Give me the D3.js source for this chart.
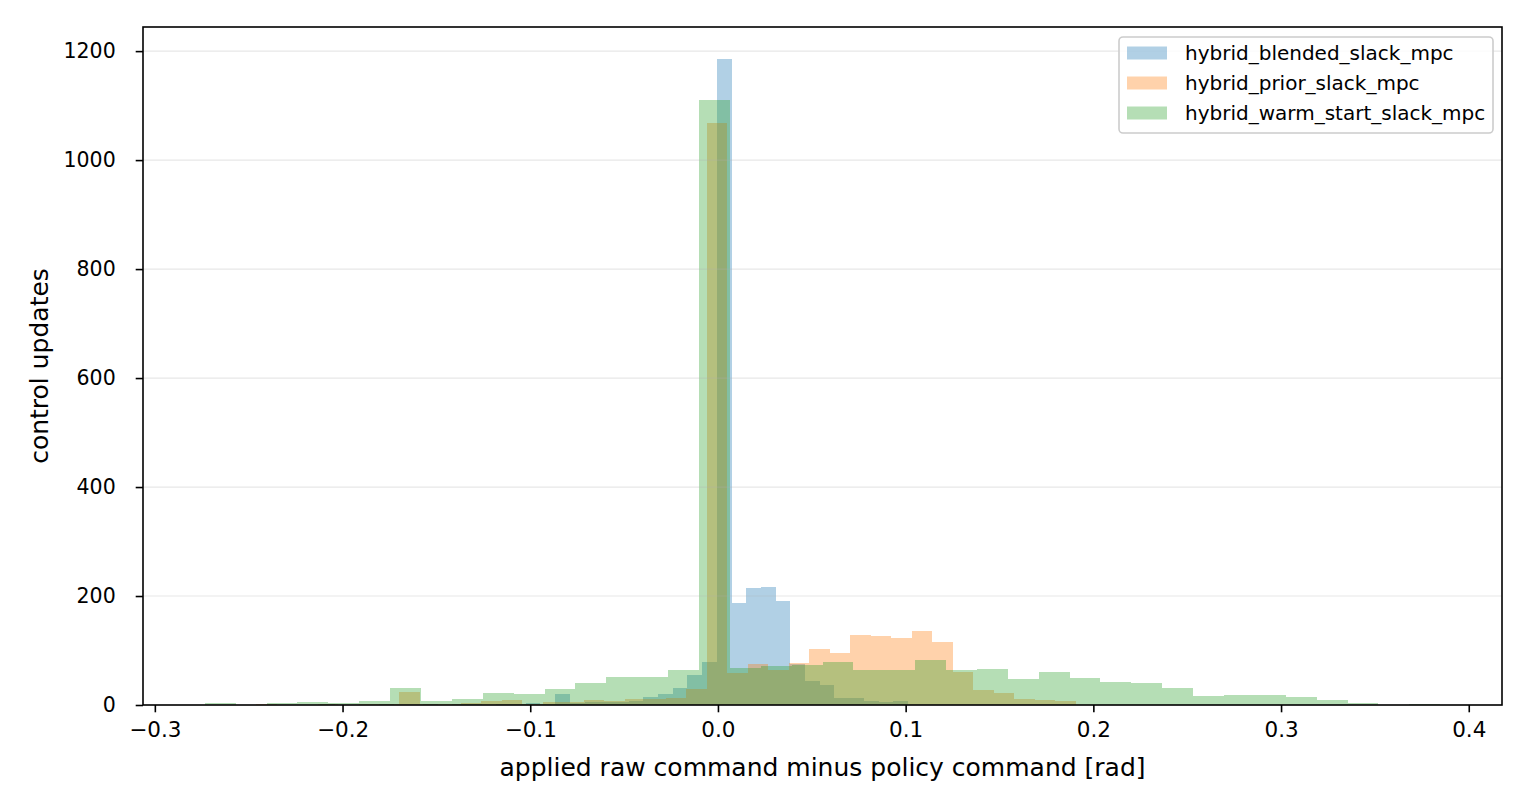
<!DOCTYPE html>
<html>
<head>
<meta charset="utf-8">
<script src="https://cdn.jsdelivr.net/npm/d3@7/dist/d3.min.js"></script>
<style>
  html, body { margin: 0; padding: 0; background: #ffffff; }
  svg { display: block; font-family: "DejaVu Sans", sans-serif; }
</style>
</head>
<body>
<svg id="chart" width="1530" height="810"></svg>
<script>
// ---- data (bin counts; 40 bins per series over each series' own range) ----
const seriesNames = ["hybrid_blended_slack_mpc", "hybrid_prior_slack_mpc", "hybrid_warm_start_slack_mpc"];
const seriesColors = ["#1f77b4", "#ff7f0e", "#2ca02c"];

const blendedRange = [-0.2120, 0.1012];
const blendedCounts = [1, 0, 0, 0, 1, 0, 0, 1, 0, 1,
                       1, 0, 1, 2, 4, 1, 20, 3, 5, 6,
                       6, 8, 15, 20, 31, 55, 79, 1185, 187, 215,
                       216, 190, 76, 44, 37, 13, 13, 7, 5, 7];

const priorRange = [-0.2461, 0.1907];
const priorCounts = [1, 0, 0, 1, 0, 1, 2, 24, 1, 2,
                     3, 7, 9, 2, 6, 6, 9, 8, 11, 11,
                     13, 29, 1068, 59, 75, 64, 77, 103, 95, 128,
                     126, 123, 136, 116, 61, 27, 22, 11, 9, 7];

const warmRange = [-0.2734, 0.3848];
const warmCounts = [4, 0, 4, 6, 4, 8, 31, 7, 11, 22,
                    20, 29, 40, 51, 51, 64, 1110, 68, 72, 73,
                    79, 64, 64, 83, 64, 66, 48, 61, 50, 42,
                    40, 31, 16, 18, 18, 15, 9, 3, 0, 2];

const xTicks = [-0.3, -0.2, -0.1, 0.0, 0.1, 0.2, 0.3, 0.4];
const yTicks = [0, 200, 400, 600, 800, 1000, 1200];
const xLabel = "applied raw command minus policy command [rad]";
const yLabel = "control updates";

// ---- layout ----
const svg = d3.select("#chart");
const W = 1530, H = 810;
const m = { left: 143, top: 27, right: 28, bottom: 105 };
const iw = W - m.left - m.right;   // 1359
const ih = H - m.top - m.bottom;   // 678

const series = [
  { name: seriesNames[0], color: seriesColors[0], range: blendedRange, counts: blendedCounts },
  { name: seriesNames[1], color: seriesColors[1], range: priorRange, counts: priorCounts },
  { name: seriesNames[2], color: seriesColors[2], range: warmRange, counts: warmCounts }
];

series.forEach(s => {
  const n = s.counts.length;
  const w = (s.range[1] - s.range[0]) / n;
  s.bins = s.counts.map((c, i) => ({ x0: s.range[0] + i * w, x1: s.range[0] + (i + 1) * w, c }));
});

const dMin = d3.min(series, s => s.range[0]);
const dMax = d3.max(series, s => s.range[1]);
const pad = 0.05 * (dMax - dMin);
const x = d3.scaleLinear().domain([dMin - pad, dMax + pad]).range([0, iw]);
const yMax = d3.max(series, s => d3.max(s.counts)) * 1.05;
const y = d3.scaleLinear().domain([0, yMax]).range([ih, 0]);

const g = svg.append("g").attr("transform", `translate(${m.left},${m.top})`);

// bars
series.forEach(s => {
  g.append("g")
    .selectAll("rect")
    .data(s.bins)
    .join("rect")
    .attr("x", d => x(d.x0))
    .attr("width", d => x(d.x1) - x(d.x0))
    .attr("y", d => y(d.c))
    .attr("height", d => ih - y(d.c))
    .attr("fill", s.color)
    .attr("fill-opacity", 0.35)
    .attr("shape-rendering", "crispEdges");
});

// grid (above patches, like matplotlib default)
g.append("g")
  .selectAll("line")
  .data(yTicks)
  .join("line")
  .attr("x1", 0).attr("x2", iw)
  .attr("y1", d => y(d)).attr("y2", d => y(d))
  .attr("stroke", "#b0b0b0")
  .attr("stroke-opacity", 0.3)
  .attr("stroke-width", 1.2);

const fmtX = d => d3.format(".1f")(d).replace("-", "\u2212");
const tickLen = 7.3;

// x axis
const xAxis = d3.axisBottom(x).tickValues(xTicks).tickFormat(fmtX).tickSize(tickLen).tickPadding(9);
const gx = g.append("g").attr("transform", `translate(0,${ih})`).call(xAxis);
gx.select(".domain").remove();
gx.selectAll(".tick line").attr("stroke", "#000").attr("stroke-width", 1.6);
gx.selectAll(".tick text").attr("font-size", "21.5px").attr("fill", "#000").attr("font-family", "DejaVu Sans");

// y axis
const yAxis = d3.axisLeft(y).tickValues(yTicks).tickFormat(d3.format("d")).tickSize(tickLen).tickPadding(20);
const gy = g.append("g").call(yAxis);
gy.select(".domain").remove();
gy.selectAll(".tick line").attr("stroke", "#000").attr("stroke-width", 1.6);
gy.selectAll(".tick text").attr("font-size", "20.5px").attr("fill", "#000").attr("font-family", "DejaVu Sans");

// frame
g.append("rect")
  .attr("x", 0).attr("y", 0).attr("width", iw).attr("height", ih)
  .attr("fill", "none").attr("stroke", "#000").attr("stroke-width", 1.6);

// axis labels
svg.append("text")
  .attr("x", m.left + iw / 2).attr("y", 776)
  .attr("text-anchor", "middle")
  .attr("font-size", "25px")
  .attr("fill", "#000")
  .text(xLabel);

svg.append("text")
  .attr("transform", `translate(48,${m.top + ih / 2}) rotate(-90)`)
  .attr("text-anchor", "middle")
  .attr("font-size", "25px")
  .attr("fill", "#000")
  .text(yLabel);

// legend
const lg = svg.append("g");
lg.append("rect")
  .attr("x", 1119).attr("y", 37).attr("width", 374).attr("height", 96)
  .attr("rx", 4).attr("ry", 4)
  .attr("fill", "#ffffff").attr("fill-opacity", 0.8)
  .attr("stroke", "#cccccc").attr("stroke-width", 1.6);

series.forEach((s, i) => {
  const cy = 53 + i * 30;
  lg.append("rect")
    .attr("x", 1127).attr("y", cy - 6.5).attr("width", 40).attr("height", 13)
    .attr("fill", s.color).attr("fill-opacity", 0.35);
  lg.append("text")
    .attr("x", 1185).attr("y", cy)
    .attr("dominant-baseline", "central")
    .attr("font-size", "20px")
    .attr("fill", "#000")
    .text(s.name);
});
</script>
</body>
</html>
